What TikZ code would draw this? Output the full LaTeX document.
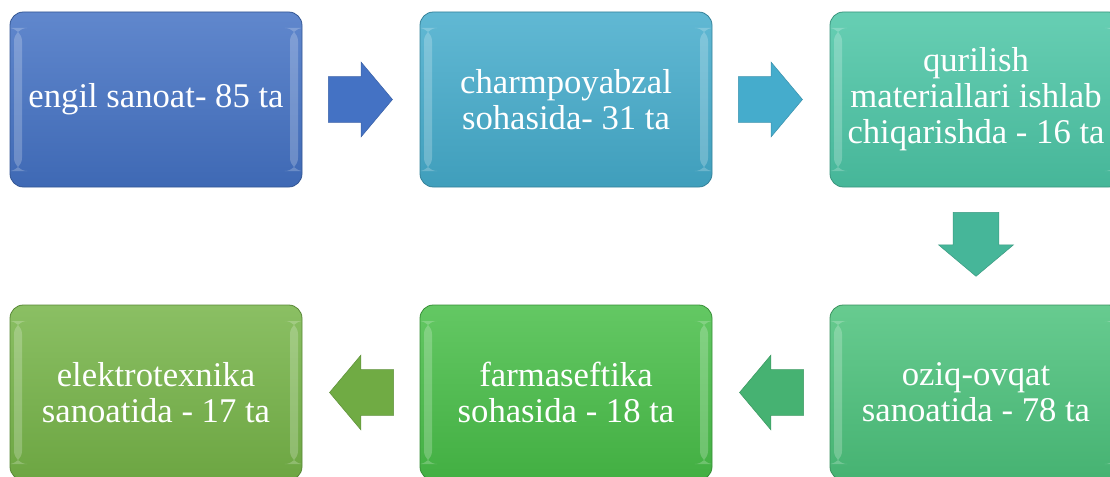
\documentclass[tikz,border=0pt]{standalone}
\usepackage{fontspec}
\setmainfont{Liberation Serif}
\newfontfamily\boxfont{Liberation Serif}
\usetikzlibrary{shapes.arrows,calc}

\definecolor{cBlue}{HTML}{4472C4}
\definecolor{cCyan}{HTML}{45ACCC}
\definecolor{cTeal}{HTML}{4CC6A6}
\definecolor{cMint}{HTML}{4CC27C}
\definecolor{cGreen}{HTML}{48BE48}
\definecolor{cLime}{HTML}{76B448}

\tikzset{
  stage/.style={rounded corners=10pt,minimum width=219pt,minimum height=131.25pt,
    inner sep=0pt,align=center,text=white,font=\boxfont\fontsize{26}{27}\selectfont,
    draw=#1!75!black,line width=0.6pt,top color=#1!85!white,bottom color=#1!92!black,
    path picture={
      \fill[white,opacity=0.22] ([xshift=3pt,yshift=-12pt]path picture bounding box.north west)
        rectangle ([xshift=9pt,yshift=12pt]path picture bounding box.south west);
      \fill[white,opacity=0.22] ([xshift=-9pt,yshift=-12pt]path picture bounding box.north east)
        rectangle ([xshift=-3pt,yshift=12pt]path picture bounding box.south east);
    }},
  flow/.style={single arrow,anchor=tail,minimum height=48pt,minimum width=55.5pt,
    single arrow head extend=10.9pt,single arrow tip angle=100,
    fill=#1,draw=#1!85!black,line width=0.4pt},
  hflow/.style={flow=#1,inner xsep=0pt,inner ysep=16.9pt},
  vflow/.style={flow=#1,inner xsep=16.9pt,inner ysep=0pt}
}

\begin{document}
\begin{tikzpicture}[x=0.75pt,y=0.75pt]
  \useasboundingbox (0,0) rectangle (1110,476);
  \clip (0,0) rectangle (1110,476);
  % top row
  \node[stage=cBlue] (s1) at (156,376.5) {engil sanoat- 85 ta};
  \node[stage=cCyan] (s2) at (566,376.5) {charmpoyabzal\\sohasida- 31 ta};
  \node[stage=cTeal] (s3) at (976,376.5) {qurilish\\materiallari ishlab\\chiqarishda - 16 ta};
  % bottom row
  \node[stage=cMint] (s4) at (976,83.5) {oziq-ovqat\\sanoatida - 78 ta};
  \node[stage=cGreen] (s5) at (566,83.5) {farmaseftika\\sohasida - 18 ta};
  \node[stage=cLime] (s6) at (156,83.5) {elektrotexnika\\sanoatida - 17 ta};
  % arrows
  \node[hflow=cBlue] (a12) at ($(s1.east)!0.22!(s2.west)$) {};
  \node[hflow=cCyan] (a23) at ($(s2.east)!0.22!(s3.west)$) {};
  \node[vflow=cTeal!92!black,shape border rotate=270] (a34) at ($(s3.south)!0.21!(s4.north)$) {};
  \node[hflow=cMint!92!black,shape border rotate=180] (a45) at ($(s4.west)!0.22!(s5.east)$) {};
  \node[hflow=cLime!95!black,shape border rotate=180] (a56) at ($(s5.west)!0.22!(s6.east)$) {};
\end{tikzpicture}
\end{document}
